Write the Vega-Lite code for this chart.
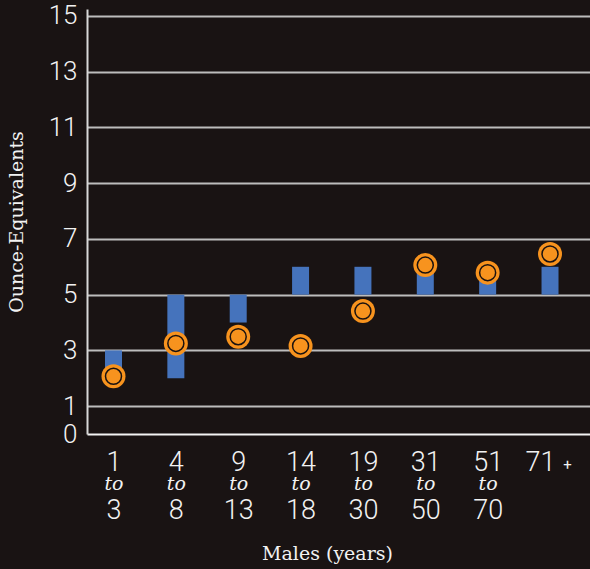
{
  "$schema": "https://vega.github.io/schema/vega-lite/v6.json",
  "width": 503,
  "height": 425,
  "autosize": "none",
  "padding": {"left": 87, "top": 9, "right": 0, "bottom": 135},
  "background": "#191313",
  "config": {"view": {"stroke": null}},
  "data": {"values": [
    {"age": "1 to 3", "low": 2, "high": 3, "value": 2.07},
    {"age": "4 to 8", "low": 2, "high": 5, "value": 3.25},
    {"age": "9 to 13", "low": 4, "high": 5, "value": 3.49},
    {"age": "14 to 18", "low": 5, "high": 6, "value": 3.16},
    {"age": "19 to 30", "low": 5, "high": 6, "value": 4.41},
    {"age": "31 to 50", "low": 5, "high": 6, "value": 6.06},
    {"age": "51 to 70", "low": 5, "high": 6, "value": 5.79},
    {"age": "71+", "low": 5, "high": 6, "value": 6.46}
  ]},
  "resolve": {"axis": {"x": "independent"}},
  "layer": [
    {
      "mark": {"type": "bar", "size": 17, "color": "#4573bc"},
      "encoding": {
        "x": {
          "field": "age", "type": "ordinal", "sort": null,
          "scale": {"type": "point", "padding": 0.533, "align": 0.3985},
          "axis": {
            "orient": "bottom",
            "title": null,
            "domainColor": "#f4f4f4", "domainWidth": 2,
            "ticks": false, "labelAngle": 0,
            "labelFont": "Roboto", "labelFontWeight": 300,
            "labelFontSize": 27, "labelColor": "#f2f2f2",
            "labelBaseline": "top", "labelPadding": 15,
            "labelOffset": {"condition": {"test": "datum.label == '71+'", "value": -10}, "value": 0},
            "labelExpr": "indexof(datum.label, ' to ') >= 0 ? split(datum.label, ' to ')[0] : replace(datum.label, '+', '')"
          }
        },
        "y": {
          "field": "low", "type": "quantitative",
          "scale": {"domain": [0, 15.25], "nice": false},
          "axis": {
            "title": "Ounce-Equivalents",
            "titleFont": "DejaVu Serif", "titleFontSize": 19, "titleFontWeight": "normal",
            "titleColor": "#f2f2f2", "titlePadding": 22,
            "values": [0, 1, 3, 5, 7, 9, 11, 13, 15],
            "grid": true, "gridColor": "#bdbdbd", "gridWidth": 2,
            "gridOpacity": {"condition": {"test": "datum.value == 0", "value": 0}, "value": 1},
            "domainColor": "#d8d8d8", "domainWidth": 2,
            "ticks": false,
            "labelFont": "Roboto", "labelFontWeight": 300,
            "labelFontSize": 26, "labelColor": "#f2f2f2", "labelPadding": 10
          }
        },
        "y2": {"field": "high"}
      }
    },
    {
      "mark": {"type": "point", "shape": "circle", "filled": true, "size": 576, "color": "#f7931e", "opacity": 1},
      "encoding": {
        "x": {
          "field": "age", "type": "ordinal", "sort": null,
          "axis": {
            "orient": "bottom",
            "title": null, "domain": false, "ticks": false, "labelAngle": 0,
            "labelFont": {"condition": {"test": "datum.label == '71+'", "value": "Roboto"}, "value": "DejaVu Serif"},
            "labelFontStyle": {"condition": {"test": "datum.label == '71+'", "value": "normal"}, "value": "italic"},
            "labelFontSize": {"condition": {"test": "datum.label == '71+'", "value": 15}, "value": 19},
            "labelColor": "#f2f2f2", "labelBaseline": "top",
            "labelPadding": {"condition": {"test": "datum.label == '71+'", "value": 23}, "value": 40},
            "labelOffset": {"condition": {"test": "datum.label == '71+'", "value": 17}, "value": 0},
            "labelExpr": "indexof(datum.label, ' to ') >= 0 ? 'to' : '+'"
          }
        },
        "y": {"field": "value", "type": "quantitative"}
      }
    },
    {
      "mark": {"type": "point", "shape": "circle", "filled": false, "size": 256, "stroke": "#1a1210", "strokeWidth": 1.5, "opacity": 1},
      "encoding": {
        "x": {
          "field": "age", "type": "ordinal", "sort": null,
          "axis": {
            "orient": "bottom",
            "title": "Males (years)",
            "titleFont": "DejaVu Serif", "titleFontSize": 19, "titleFontWeight": "normal",
            "titleColor": "#f2f2f2", "titlePadding": 21, "titleX": 240,
            "domain": false, "ticks": false, "labelAngle": 0,
            "labelFont": "Roboto", "labelFontWeight": 300,
            "labelFontSize": 27, "labelColor": "#f2f2f2",
            "labelBaseline": "top", "labelPadding": 63,
            "labelExpr": "indexof(datum.label, ' to ') >= 0 ? split(datum.label, ' to ')[1] : ''"
          }
        },
        "y": {"field": "value", "type": "quantitative"}
      }
    }
  ]
}
